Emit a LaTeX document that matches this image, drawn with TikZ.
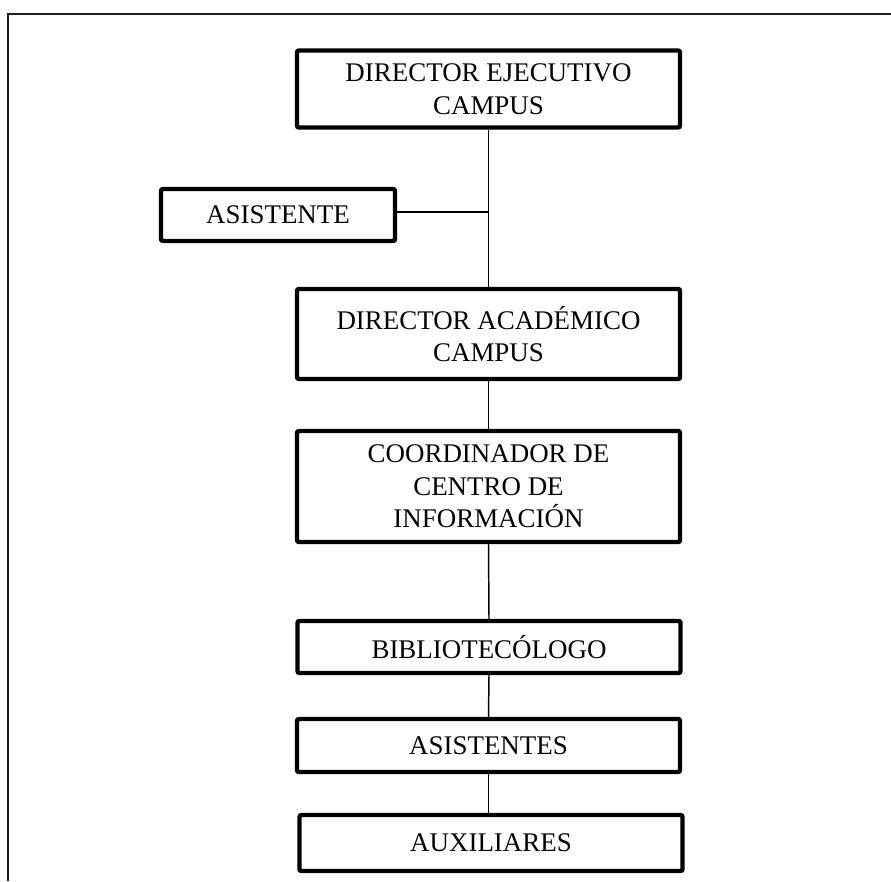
\documentclass[tikz,border=0pt]{standalone}
\usepackage{fontspec}
\setmainfont{Liberation Serif}
\usepackage{tikz}
\usetikzlibrary{positioning, calc}
\definecolor{mydark}{RGB}{0,0,0}
\definecolor{myframe}{RGB}{30,30,30}
\tikzset{
  orgbox/.style={rectangle, draw=mydark, fill=white, align=center,
    inner sep=0pt, font=\fontsize{20.2}{24.5}\selectfont,
    rounded corners=1.5pt, line width=3.3pt},
  wide/.style={minimum width=287.25pt},
  link/.style={line width=1.1pt, color=mydark},
  frame/.style={line width=1.5pt, color=myframe}
}
\begin{document}
\begin{tikzpicture}[x=0.75pt, y=-0.75pt]
  \useasboundingbox (0,0) rectangle (891,881);

  % Outer frame
  \coordinate (ftl) at (8,14);
  \coordinate (ftr) at (891,14);
  \coordinate (fbl) at (8,881);
  \draw[frame] (ftr) -- (ftl) -- (fbl);

  % Boxes
  \node[orgbox, wide, minimum height=57.75pt] (ejec) at (488.5,89)
    {DIRECTOR EJECUTIVO\\CAMPUS};
  \node[orgbox, minimum width=175.5pt, minimum height=39pt] (asis) at (278,215)
    {ASISTENTE};
  \node[orgbox, wide, minimum height=67.5pt] (acad) at (488.5,334)
    {DIRECTOR ACAD\'EMICO\\CAMPUS};
  \node[orgbox, wide, minimum height=83.25pt] (coord) at (488.5,486.5)
    {COORDINADOR DE\\CENTRO DE\\INFORMACI\'ON};
  \node[orgbox, wide, minimum height=39pt] (biblio) at (489,647)
    {BIBLIOTEC\'OLOGO};
  \node[orgbox, wide, minimum height=39.75pt] (asists) at (488.5,745.5)
    {ASISTENTES};
  \node[orgbox, wide, minimum height=42pt] (aux) at (491,843)
    {AUXILIARES};

  % Connectors
  \coordinate (jn) at ($(asis.east -| ejec.south)+(0,-3)$);
  \draw[link] (ejec.south) -- (acad.north);
  \draw[link] ($(asis.east)+(0,-3)$) -- (jn);
  \draw[link] (acad.south) -- (coord.north);
  \draw[link] (coord.south) -- (biblio.north);
  \draw[link] (biblio.south) -- (asists.north);
  \draw[link] (asists.south) -- (asists.south |- aux.north);
\end{tikzpicture}
\end{document}
